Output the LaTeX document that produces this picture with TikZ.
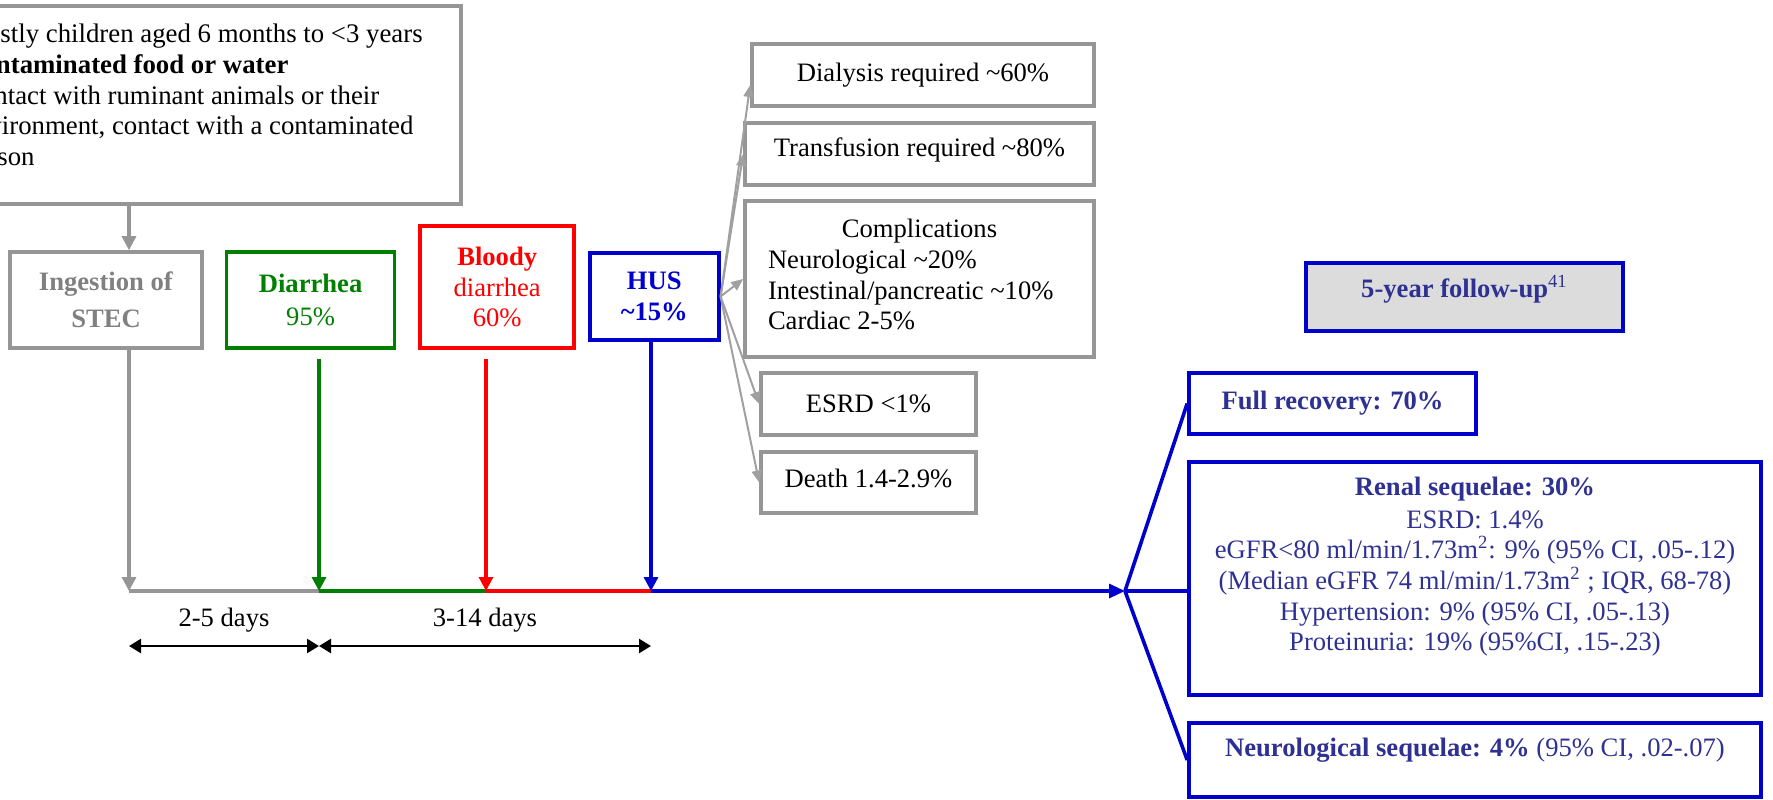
\documentclass[tikz,border=0pt]{standalone}
\usepackage{fontspec}
\setmainfont{Liberation Serif}
\usetikzlibrary{positioning,calc,arrows.meta}

\definecolor{boxgray}{RGB}{150,150,150}
\definecolor{txtgray}{RGB}{128,128,128}
\definecolor{fangray}{RGB}{160,160,160}
\definecolor{hgreen}{RGB}{0,128,0}
\definecolor{hred}{RGB}{255,0,0}
\definecolor{hblue}{RGB}{0,0,204}
\definecolor{navy}{RGB}{46,49,146}
\definecolor{fufill}{RGB}{220,220,220}

\begin{document}
\begin{tikzpicture}[x=0.5pt, y=-0.5pt, font=\fontsize{13.3pt}{15.3pt}\selectfont,
    stagebox/.style={draw, line width=1.8pt, inner sep=0pt, align=center},
    greybox/.style={stagebox, draw=boxgray},
    outbox/.style={stagebox, draw=hblue, text=navy},
    link/.style={line width=1.6pt},
    downarr/.style={link, -{Triangle[length=7pt,width=7pt]}},
    fanarr/.style={fangray, line width=1pt, -{Triangle[length=6pt,width=5pt]}},
    spanarr/.style={line width=1.2pt, {Triangle[length=6pt,width=7pt]}-{Triangle[length=6pt,width=7pt]}}]
        \useasboundingbox (0,0) rectangle (1773,799);

        \node [greybox, anchor=north east, align=left, font=\fontsize{13.4pt}{15.3pt}\selectfont, minimum width=261.5pt, minimum height=99pt, text depth=10pt] (src) at (463,4)
            {\makebox[236.5pt][l]{Mostly children aged 6 months to <3 years}\\ \textbf{Contaminated food or water}\\ Contact with ruminant animals or their\\ environment, contact with a contaminated\\ person};
        \node [greybox, text=txtgray, minimum width=96pt, minimum height=48pt] (ing) at (106,300) {\textbf{Ingestion of}\\[3.2pt]\textbf{STEC}};
        \node [stagebox, draw=hgreen, text=hgreen, minimum width=84pt, minimum height=48pt, right=10.5pt of ing] (dia) {\textbf{Diarrhea}\\[1.2pt]95\%};
        \node [stagebox, draw=hred, text=hred, minimum width=77pt, minimum height=61pt, right=11pt of dia, yshift=6.5pt] (bld) {\textbf{Bloody}\\diarrhea\\60\%};
        \node [stagebox, draw=hblue, text=hblue, minimum width=64.5pt, minimum height=43.5pt, right=6pt of bld, yshift=-4.75pt] (hus) {\textbf{HUS}\\\textbf{\textasciitilde15\%}};

        \node [greybox, minimum width=171pt, minimum height=31pt] (dial) at (923,75) {Dialysis required \textasciitilde60\%};
        \node [greybox, minimum width=174.5pt, minimum height=31pt, text depth=7pt] (trans) at (919.5,154) {Transfusion required \textasciitilde80\%};
        \node [greybox, align=left, minimum width=174.5pt, minimum height=78pt, text depth=4.5pt] (compl) at (919.5,279)
            {\makebox[151.5pt]{Complications}\\ Neurological \textasciitilde20\%\\ Intestinal/pancreatic \textasciitilde10\%\\ Cardiac 2-5\%};
        \node [greybox, minimum width=107.5pt, minimum height=31pt] (esrd) at (868.5,404) {ESRD <1\%};
        \node [greybox, minimum width=107.5pt, minimum height=30.5pt, text depth=4.5pt] (death) at (868.5,482.5) {Death 1.4-2.9\%};

        \node [outbox, fill=fufill, minimum width=158.5pt, minimum height=34pt, text height=9pt, text depth=8.4pt] (fu) at (1464.5,297) {\textbf{5-year follow-up}\textsuperscript{41}};
        \node [outbox, minimum width=143.5pt, minimum height=30.5pt] (full) at (1332.5,403.5) {\textbf{Full recovery: 70\%}};
        \node [outbox, minimum width=286pt, minimum height=116.5pt, text depth=14.5pt] (renal) at (1475,578.5)
            {\textbf{Renal sequelae: 30\%}\\[1pt] ESRD: 1.4\%\\ eGFR<80 ml/min/1.73m\textsuperscript{2}: 9\% (95\% CI, .05-.12)\\ (Median eGFR 74 ml/min/1.73m\textsuperscript{2} ; IQR, 68-78)\\ Hypertension: 9\% (95\% CI, .05-.13)\\ Proteinuria: 19\% (95\%CI, .15-.23)};
        \node [outbox, minimum width=286pt, minimum height=37pt, text depth=12.5pt] (neuro) at (1475,760) {\textbf{Neurological sequelae: 4\%} (95\% CI, .02-.07)};

        \coordinate (t0) at (129,591);
        \coordinate (t1) at (319,591);
        \coordinate (t2) at (486,591);
        \coordinate (t3) at (651,591);
        \coordinate (jn) at (1125,591);

        \draw[link, boxgray] (t0) -- (t1);
        \draw[link, hgreen] (t1) -- (t2);
        \draw[link, hred] (t2) -- (t3);
        \draw[link, hblue, -{Triangle[length=8pt,width=7pt]}] (t3) -- (jn);

        \draw[downarr, boxgray] (src.south -| t0) -- (ing.north -| t0);
        \draw[downarr, boxgray] (ing.south -| t0) -- (t0);
        \draw[downarr, hgreen] ($(dia.south -| t1)+(0,9)$) -- (t1);
        \draw[downarr, hred] ($(bld.south -| t2)+(0,9)$) -- (t2);
        \draw[downarr, hblue] (hus.south -| t3) -- (t3);

        \draw[fanarr] (hus.east) -- ([yshift=-5pt]dial.west);
        \draw[fanarr] (hus.east) -- (trans.west);
        \draw[fanarr] (hus.east) -- (compl.west);
        \draw[fanarr] (hus.east) -- (esrd.west);
        \draw[fanarr] (hus.east) -- (death.west);

        \draw[hblue, line width=1.8pt] (jn) -- (full.west);
        \draw[hblue, line width=1.8pt] (jn) -- (jn -| renal.west);
        \draw[hblue, line width=1.8pt] (jn) -- (neuro.west);

        \node (gap1) at (224,620) {2-5 days};
        \node (gap2) at (485,620) {3-14 days};
        \draw[spanarr] ($(t0)+(0,55)$) -- ($(t1)+(0,55)$);
        \draw[spanarr] ($(t1)+(0,55)$) -- ($(t3)+(0,55)$);
\end{tikzpicture}
\end{document}
